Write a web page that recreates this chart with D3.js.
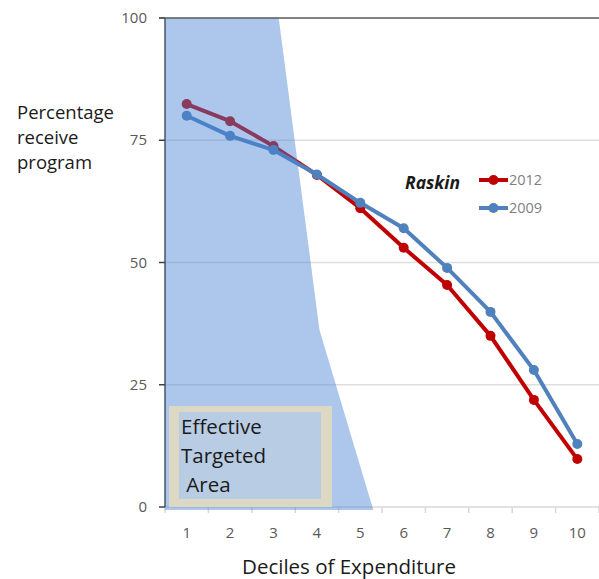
<!DOCTYPE html>
<html>
<head>
<meta charset="utf-8">
<script src="https://cdn.jsdelivr.net/npm/d3@7"></script>
<style>
  html, body { margin: 0; padding: 0; background: #fff; }
  svg { display: block; font-family: "Open Sans", "Noto Sans", sans-serif; }
</style>
</head>
<body>
<svg id="chart" width="599" height="579"></svg>
<script>
// Deciles of expenditure (x categories)
const deciles = [1, 2, 3, 4, 5, 6, 7, 8, 9, 10];
// Percentage receiving the Raskin program, by decile
const raskin2012 = [82.4, 78.9, 73.8, 67.9, 61.1, 53, 45.4, 35, 21.9, 9.8];
const raskin2009 = [80, 75.9, 73, 68, 62.2, 57, 48.9, 39.9, 28, 12.9];
// Y-axis ticks
const yTicks = [0, 25, 50, 75, 100];
// Outline of the shaded "effective targeted" zone, in (decile, percent) units
const targetZoneX = [0.5, 3.12, 4.06, 5.3, 0.5];
const targetZoneY = [100, 100, 36.2, -0.6, -0.6];

const svg = d3.select("#chart");
const M = { left: 165, right: 599, top: 18, bottom: 507 };

const x = d3.scaleBand().domain(deciles).range([M.left, M.right]);
const xLin = d3.scaleLinear()
  .domain([0.5, 10.5])
  .range([M.left, M.right]);
const y = d3.scaleLinear().domain([0, 100]).range([M.bottom, M.top]);
const cx = d => x(d) + x.bandwidth() / 2;

// Horizontal gridlines
svg.append("g")
  .selectAll("line")
  .data(yTicks.filter(t => t > 0 && t < 100))
  .join("line")
  .attr("x1", M.left).attr("x2", M.right)
  .attr("y1", d => y(d)).attr("y2", d => y(d))
  .attr("stroke", "#dedede").attr("stroke-width", 1.5);

// X axis (ticks between categories)
const xAxis = svg.append("g")
  .attr("transform", `translate(0,${M.bottom})`);
xAxis.append("line")
  .attr("x1", M.left).attr("x2", M.right)
  .attr("stroke", "#d9d9d9").attr("stroke-width", 1.5);
xAxis.selectAll("line.tk")
  .data(d3.range(0.5, 11, 1))
  .join("line").attr("class", "tk")
  .attr("x1", d => xLin(d)).attr("x2", d => xLin(d))
  .attr("y1", 0).attr("y2", 6)
  .attr("stroke", "#d9d9d9").attr("stroke-width", 1.5);
xAxis.selectAll("text")
  .data(deciles)
  .join("text")
  .attr("x", d => cx(d)).attr("y", 31)
  .attr("text-anchor", "middle")
  .attr("font-size", 15).attr("fill", "#595959")
  .text(d => d);

// Series
const series = [
  { name: "2012", values: raskin2012, color: "#c00000" },
  { name: "2009", values: raskin2009, color: "#4f81bd" }
];
const line = d3.line().x((v, i) => cx(deciles[i])).y(v => y(v));
series.forEach(s => {
  const g = svg.append("g");
  g.append("path")
    .attr("d", line(s.values))
    .attr("fill", "none").attr("stroke", s.color)
    .attr("stroke-width", 4).attr("stroke-linejoin", "round");
  g.selectAll("circle")
    .data(s.values)
    .join("circle")
    .attr("cx", (v, i) => cx(deciles[i])).attr("cy", v => y(v))
    .attr("r", 5).attr("fill", s.color);
});

// Shaded target zone, translucent over the lines
const zone = d3.line().x(p => xLin(p[0])).y(p => y(p[1]));
svg.append("path")
  .attr("d", zone(d3.zip(targetZoneX, targetZoneY)) + "Z")
  .attr("fill", "#4683d3").attr("fill-opacity", 0.45);

// Y axis
const yAxis = svg.append("g");
yAxis.append("line")
  .attr("x1", M.left).attr("x2", M.left)
  .attr("y1", M.top).attr("y2", M.bottom)
  .attr("stroke", "#44546a").attr("stroke-width", 1.5);
yAxis.selectAll("line.tk")
  .data(yTicks)
  .join("line").attr("class", "tk")
  .attr("x1", M.left - 6).attr("x2", M.left)
  .attr("y1", d => y(d)).attr("y2", d => y(d))
  .attr("stroke", "#404040").attr("stroke-width", 1.5);
yAxis.selectAll("text")
  .data(yTicks)
  .join("text")
  .attr("x", 147).attr("y", d => y(d) + 5)
  .attr("text-anchor", "end")
  .attr("font-size", 15).attr("fill", "#595959")
  .text(d => d);

// Top border at 100
svg.append("line")
  .attr("x1", M.left - 6).attr("x2", M.right)
  .attr("y1", y(100)).attr("y2", y(100))
  .attr("stroke", "#595959").attr("stroke-width", 1.5);

// "Effective Targeted Area" box
const box = svg.append("g");
box.append("rect")
  .attr("x", 169).attr("y", 406).attr("width", 163).attr("height", 101)
  .attr("fill", "#ddd8c4");
box.append("rect")
  .attr("x", 179).attr("y", 412).attr("width", 142).attr("height", 87)
  .attr("fill", "#b8cce4");
box.selectAll("text")
  .data(["Effective", "Targeted", " Area"])
  .join("text")
  .attr("x", 181).attr("y", (d, i) => 434 + i * 29)
  .attr("font-size", 20.5).attr("fill", "#1a1a1a")
  .attr("xml:space", "preserve")
  .text(d => d);

// Legend
svg.append("text")
  .attr("x", 405).attr("y", 189)
  .attr("font-size", 17.5).attr("font-weight", "bold").attr("font-style", "italic")
  .attr("fill", "#1a1a1a")
  .text("Raskin");
const lg = svg.append("g")
  .selectAll("g")
  .data(series)
  .join("g")
  .attr("transform", (d, i) => `translate(479,${180 + i * 28})`);
lg.append("line")
  .attr("x1", 0).attr("x2", 29)
  .attr("stroke", d => d.color).attr("stroke-width", 4);
lg.append("circle")
  .attr("cx", 14.5).attr("r", 5).attr("fill", d => d.color);
lg.append("text")
  .attr("x", 30).attr("y", 5)
  .attr("font-size", 14.5).attr("fill", "#7f7f7f")
  .text(d => d.name);

// Axis titles
svg.append("text")
  .attr("x", 349).attr("y", 574)
  .attr("text-anchor", "middle")
  .attr("font-size", 20.5).attr("fill", "#1a1a1a")
  .text("Deciles of Expenditure");
svg.append("text")
  .attr("font-size", 18.5).attr("fill", "#1a1a1a")
  .selectAll("tspan")
  .data(["Percentage", "receive", "program"])
  .join("tspan")
  .attr("x", 17).attr("y", (d, i) => 119 + i * 25)
  .text(d => d);
</script>
</body>
</html>
